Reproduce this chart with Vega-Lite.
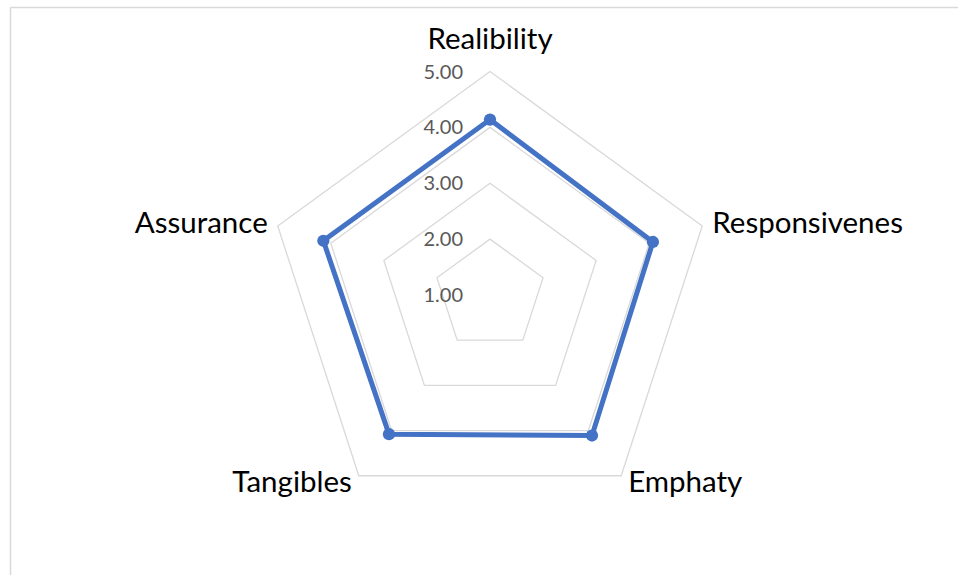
{
  "$schema": "https://vega.github.io/schema/vega-lite/v6.json",
  "width": 948,
  "height": 568,
  "autosize": {"type": "none"},
  "padding": {"left": 10, "top": 7, "right": 0, "bottom": 0},
  "background": "white",
  "config": {"view": {"stroke": null}, "font": "Lato"},
  "datasets": {
    "scores": [
      {"dimension": "Realibility", "i": 0, "score": 4.14},
      {"dimension": "Responsivenes", "i": 1, "score": 4.07},
      {"dimension": "Emphaty", "i": 2, "score": 4.11},
      {"dimension": "Tangibles", "i": 3, "score": 4.08},
      {"dimension": "Assurance", "i": 4, "score": 4.14}
    ],
    "grid": [
      {"level": 2, "i": 0}, {"level": 2, "i": 1}, {"level": 2, "i": 2}, {"level": 2, "i": 3}, {"level": 2, "i": 4},
      {"level": 3, "i": 0}, {"level": 3, "i": 1}, {"level": 3, "i": 2}, {"level": 3, "i": 3}, {"level": 3, "i": 4},
      {"level": 4, "i": 0}, {"level": 4, "i": 1}, {"level": 4, "i": 2}, {"level": 4, "i": 3}, {"level": 4, "i": 4},
      {"level": 5, "i": 0}, {"level": 5, "i": 1}, {"level": 5, "i": 2}, {"level": 5, "i": 3}, {"level": 5, "i": 4}
    ],
    "ticks": [
      {"level": 1, "label": "1.00"},
      {"level": 2, "label": "2.00"},
      {"level": 3, "label": "3.00"},
      {"level": 4, "label": "4.00"},
      {"level": 5, "label": "5.00"}
    ]
  },
  "encoding": {
    "x": {
      "field": "px", "type": "quantitative",
      "scale": {"domain": [-8.602, 8.387], "nice": false, "zero": false},
      "axis": {"orient": "top", "labels": false, "ticks": false, "grid": false, "title": null, "domainColor": "#d9d9d9", "domainWidth": 1.5}
    },
    "y": {
      "field": "py", "type": "quantitative",
      "scale": {"domain": [-5.013, 5.155], "nice": false, "zero": false},
      "axis": {"orient": "left", "labels": false, "ticks": false, "grid": false, "title": null, "domainColor": "#d9d9d9", "domainWidth": 1.5}
    }
  },
  "layer": [
    {
      "data": {"name": "grid"},
      "transform": [
        {"calculate": "datum.i*2*PI/5", "as": "angle"},
        {"calculate": "(datum.level-1)*sin(datum.angle)", "as": "px"},
        {"calculate": "(datum.level-1)*cos(datum.angle)", "as": "py"}
      ],
      "mark": {"type": "line", "interpolate": "linear-closed", "color": "#d9d9d9", "strokeWidth": 1.3},
      "encoding": {"detail": {"field": "level"}, "order": {"field": "i"}}
    },
    {
      "data": {"name": "ticks"},
      "transform": [
        {"calculate": "0", "as": "px"},
        {"calculate": "datum.level-1", "as": "py"}
      ],
      "mark": {"type": "text", "align": "right", "baseline": "middle", "dx": -27, "dy": 1, "fontSize": 20, "color": "#595959"},
      "encoding": {"text": {"field": "label"}}
    },
    {
      "data": {"name": "scores"},
      "transform": [
        {"calculate": "datum.i*2*PI/5", "as": "angle"},
        {"calculate": "(datum.score-1)*sin(datum.angle)", "as": "px"},
        {"calculate": "(datum.score-1)*cos(datum.angle)", "as": "py"}
      ],
      "layer": [
        {
          "mark": {"type": "line", "interpolate": "linear-closed", "color": "#4472C4", "strokeWidth": 5},
          "encoding": {"order": {"field": "i"}}
        },
        {
          "mark": {"type": "point", "filled": true, "opacity": 1, "color": "#4472C4", "size": 150},
          "encoding": {}
        }
      ]
    },
    {
      "data": {"name": "scores"},
      "transform": [
        {"calculate": "datum.i*2*PI/5", "as": "angle"},
        {"calculate": "4*sin(datum.angle)", "as": "px"},
        {"calculate": "4*cos(datum.angle)", "as": "py"}
      ],
      "layer": [
        {
          "transform": [{"filter": "datum.i == 0"}],
          "mark": {"type": "text", "align": "center", "baseline": "alphabetic", "dy": -23, "fontSize": 29.5, "color": "#000000"},
          "encoding": {"text": {"field": "dimension"}}
        },
        {
          "transform": [{"filter": "datum.i == 1"}],
          "mark": {"type": "text", "align": "left", "baseline": "alphabetic", "dx": 10, "dy": 7, "fontSize": 29.5, "color": "#000000"},
          "encoding": {"text": {"field": "dimension"}}
        },
        {
          "transform": [{"filter": "datum.i == 2"}],
          "mark": {"type": "text", "align": "left", "baseline": "alphabetic", "dx": 7, "dy": 16, "fontSize": 29.5, "color": "#000000"},
          "encoding": {"text": {"field": "dimension"}}
        },
        {
          "transform": [{"filter": "datum.i == 3"}],
          "mark": {"type": "text", "align": "right", "baseline": "alphabetic", "dx": -7, "dy": 16, "fontSize": 29.5, "color": "#000000"},
          "encoding": {"text": {"field": "dimension"}}
        },
        {
          "transform": [{"filter": "datum.i == 4"}],
          "mark": {"type": "text", "align": "right", "baseline": "alphabetic", "dx": -10, "dy": 7, "fontSize": 29.5, "color": "#000000"},
          "encoding": {"text": {"field": "dimension"}}
        }
      ]
    }
  ]
}
